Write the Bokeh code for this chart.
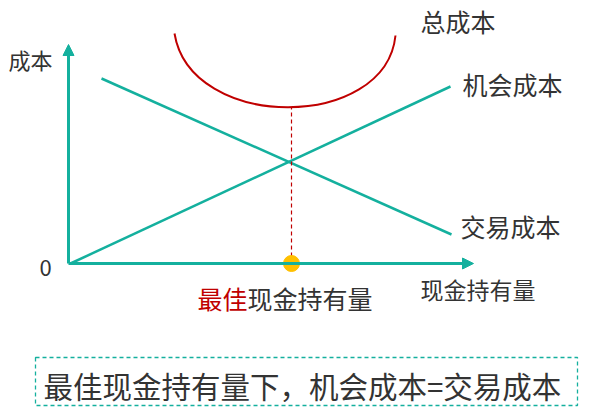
from bokeh.plotting import figure
from bokeh.models import Range1d, Arrow, NormalHead
from bokeh.core.properties import value
from bokeh.embed import file_html
from bokeh.resources import INLINE

# cash held (x) against cost (y), in drawing units
cash_axis_end = 405
cost_axis_end = 219

opp_x = [2, 382]          # 机会成本
opp_y = [0, 177]
trans_x = [33, 383]       # 交易成本
trans_y = [185, 29]

# 总成本 curve: ends and control points
total_x0, total_y0 = 106, 230
total_cx0, total_cy0 = 122, 132
total_cx1, total_cy1 = 317, 132
total_x1, total_y1 = 327, 228

optimal_cash = 223
min_total = 156

curve_labels = ["总成本", "机会成本", "交易成本"]
curve_label_x = [352, 394, 392]
curve_label_y = [243, 180, 38]

note = "最佳现金持有量下，机会成本=交易成本"
note_box = dict(left=-33, right=509, bottom=-142, top=-94)

TEAL = "#14B09E"
RED = "#C00000"
INK = "#333333"
FONT = value("Noto Sans CJK SC")

p = figure(width=590, height=408, output_backend="svg", toolbar_location=None,
           x_range=Range1d(-68, 522), y_range=Range1d(-145, 263),
           min_border=0, outline_line_color=None)
p.axis.visible = False
p.grid.visible = False

# axes with arrow heads
p.add_layout(Arrow(x_start=0, y_start=0, x_end=cash_axis_end, y_end=0,
                   line_color=TEAL, line_width=3,
                   end=NormalHead(size=11, fill_color=TEAL, line_color=TEAL)))
p.add_layout(Arrow(x_start=0, y_start=0, x_end=0, y_end=cost_axis_end,
                   line_color=TEAL, line_width=3,
                   end=NormalHead(size=11, fill_color=TEAL, line_color=TEAL)))

p.line(opp_x, opp_y, line_color=TEAL, line_width=2.5)
p.line(trans_x, trans_y, line_color=TEAL, line_width=2.5)
p.bezier(x0=[total_x0], y0=[total_y0], x1=[total_x1], y1=[total_y1],
         cx0=[total_cx0], cy0=[total_cy0], cx1=[total_cx1], cy1=[total_cy1],
         line_color=RED, line_width=2)

p.line([optimal_cash, optimal_cash], [0, min_total], line_color=RED,
       line_width=1.2, line_dash="4 3")
p.scatter([optimal_cash], [0], size=16, fill_color="#FFC000", line_color="#FFC000")

# labels
p.text([-60], [205], text=["成本"], text_font=FONT, text_font_size="22px",
       text_color=INK, text_baseline="middle")
p.text([-23], [-4], text=["0"], text_font=FONT, text_font_size="22px",
       text_color=INK, text_baseline="middle", text_align="center")
p.text(curve_label_x, curve_label_y, text=curve_labels, text_font=FONT,
       text_font_size="25px", text_color=INK, text_baseline="middle")
p.text([352], [-25], text=["现金持有量"], text_font=FONT, text_font_size="23px",
       text_color=INK, text_baseline="middle")
p.text([129], [-34], text=["最佳"], text_font=FONT, text_font_size="25px",
       text_color=RED, text_baseline="middle")
p.text([179], [-34], text=["现金持有量"], text_font=FONT, text_font_size="25px",
       text_color=INK, text_baseline="middle")

# note box
p.quad(fill_color=None, line_color=TEAL, line_width=1.3, line_dash="4 3",
       **{k: [v] for k, v in note_box.items()})
p.text([-25], [-121], text=[note], text_font=FONT, text_font_size="29.5px",
       text_color=INK, text_baseline="middle")

open("out.html", "w").write(file_html(p, INLINE))
